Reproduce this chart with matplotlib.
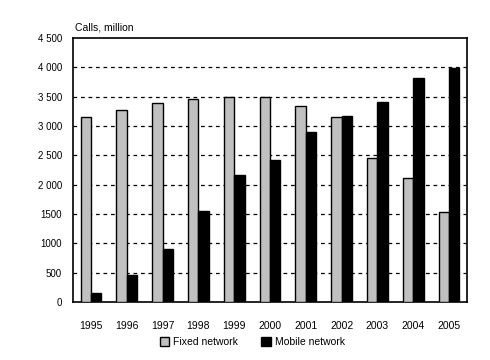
import matplotlib
matplotlib.use("Agg")
import matplotlib.pyplot as plt
import numpy as np

years = ["1995", "1996", "1997", "1998", "1999", "2000",
         "2001", "2002", "2003", "2004", "2005"]
fixed = [3160, 3270, 3400, 3470, 3490, 3505, 3350, 3150, 2450, 2110, 1530]
mobile = [160, 460, 900, 1550, 2165, 2430, 2905, 3170, 3405, 3815, 3995]
y_ticks = [0, 500, 1000, 1500, 2000, 2500, 3000, 3500, 4000, 4500]
y_tick_labels = ["0", "500", "1000", "1500", "2 000", "2 500",
                 "3 000", "3 500", "4 000", "4 500"]

plt.rcParams["font.family"] = ["Liberation Sans", "DejaVu Sans"]

fig = plt.figure(figsize=(4.9, 3.6), dpi=100)
ax = fig.add_axes([0.149, 0.161, 0.804, 0.733])

x = np.arange(len(years))
w = 0.29
ax.bar(x - w / 2, fixed, w, color="#c0c0c0", edgecolor="black",
       linewidth=1, label="Fixed network", zorder=3)
ax.bar(x + w / 2, mobile, w, color="black", edgecolor="black",
       linewidth=1, label="Mobile network", zorder=3)

ax.set_xlim(-0.5, len(years) - 0.5)
ax.set_ylim(0, 4500)
ax.set_yticks(y_ticks)
ax.set_yticklabels(y_tick_labels, fontsize=7)
ax.set_xticks(x)
ax.set_xticklabels(years, fontsize=7.5)
ax.tick_params(axis="both", length=0)
ax.tick_params(axis="x", pad=14)
ax.tick_params(axis="y", pad=8)

for v in y_ticks[1:-1]:
    ax.axhline(v, color="black", linestyle=(0, (3, 3)), linewidth=0.9, zorder=1)

for s in ax.spines.values():
    s.set_linewidth(1.2)

fig.text(0.153, 0.915, "Calls, million", fontsize=7.5)

fig.legend(loc="center", bbox_to_anchor=(0.515, 0.05), ncol=2, frameon=False,
           fontsize=7.5, handlelength=0.9, handleheight=0.9,
           handletextpad=0.4, columnspacing=2.2)

fig.savefig("out.png", dpi=100)
